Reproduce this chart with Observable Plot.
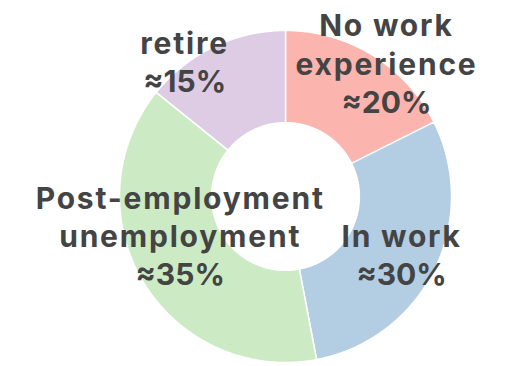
<!DOCTYPE html>
<html>
<head>
<meta charset="utf-8">
<script src="https://cdn.jsdelivr.net/npm/d3@7"></script>
<script src="https://cdn.jsdelivr.net/npm/@observablehq/plot@0.6"></script>
<style>
  html, body { margin: 0; padding: 0; background: #fff; }
  #chart svg { display: block; }
  #chart text tspan { letter-spacing: 1.8px; }
  #chart text tspan:last-child { letter-spacing: 0; }
</style>
</head>
<body>
<div id="chart"></div>
<script>
// ---- data ----
const categories = ["No work\nexperience", "In work", "Post-employment\nunemployment", "retire"];
const shares = [17.6, 29.4, 38.8, 14.2];           // slice sizes
const shareLabels = ["≈20%", "≈30%", "≈35%", "≈15%"]; // labels as printed
const colors = ["#fbb4ae", "#b3cde3", "#ccebc5", "#decbe4"];

// ---- layout (not data) ----
const W = 519, H = 366;
const cx = 285, cy = 196, Rpx = 166;   // pixel centre and outer radius
const innerRatio = 0.445;
const labelRadius = [1.011, 0.78, 0.675, 1.02];
const labelAngleNudge = [5.3, 0, 11, -11.0]; // degrees

const total = d3.sum(shares);
let acc = 0;
const slices = shares.map((v, i) => {
  const a0 = acc / total * 2 * Math.PI;
  acc += v;
  const a1 = acc / total * 2 * Math.PI;
  return {i, cat: categories[i], a0, a1};
});

// polygon points for each donut slice (clockwise from 12 o'clock)
const pts = [];
for (const s of slices) {
  const n = 120;
  const ring = [];
  for (let k = 0; k <= n; k++) {
    const a = s.a0 + (s.a1 - s.a0) * k / n;
    ring.push({x: Math.sin(a), y: Math.cos(a)});
  }
  for (let k = n; k >= 0; k--) {
    const a = s.a0 + (s.a1 - s.a0) * k / n;
    ring.push({x: innerRatio * Math.sin(a), y: innerRatio * Math.cos(a)});
  }
  ring.push(ring[0]);
  ring.forEach(p => pts.push({...p, cat: s.cat, i: s.i}));
}

const labels = slices.map(s => {
  const mid = (s.a0 + s.a1) / 2 + labelAngleNudge[s.i] * Math.PI / 180;
  const r = labelRadius[s.i];
  return {x: r * Math.sin(mid), y: r * Math.cos(mid), text: categories[s.i] + "\n" + shareLabels[s.i]};
});

const chart = Plot.plot({
  width: W,
  height: H,
  margin: 0,
  x: {domain: [-cx / Rpx, (W - cx) / Rpx], range: [0, W], axis: null},
  y: {domain: [-(H - cy) / Rpx, cy / Rpx], range: [H, 0], axis: null},
  style: {background: "#fff"},
  marks: [
    Plot.line(pts, {x: "x", y: "y", z: "cat", fill: d => colors[d.i], stroke: "white", strokeWidth: 1.5, curve: "linear"}),
    Plot.text(labels, {
      x: "x", y: "y", text: "text",
      fontSize: 30, fontWeight: 700, fill: "#444",
      fontFamily: "Inter, sans-serif",
      lineHeight: 1.28, textAnchor: "middle", lineAnchor: "middle"
    })
  ]
});
document.getElementById("chart").append(chart);
</script>
</body>
</html>
